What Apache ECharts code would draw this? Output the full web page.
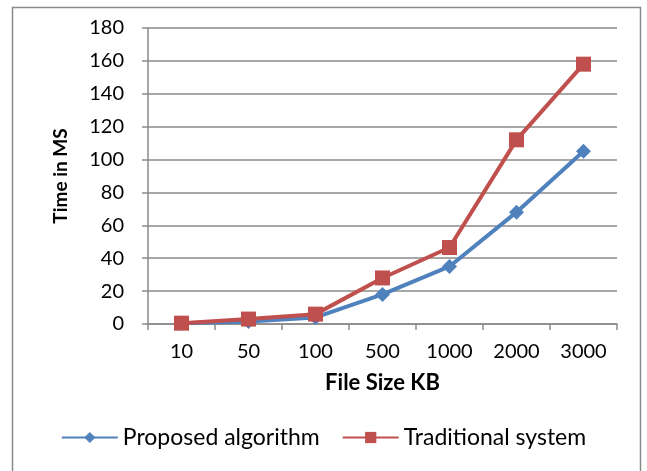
<!DOCTYPE html>
<html>
<head>
<meta charset="utf-8">
<script src="https://cdn.jsdelivr.net/npm/echarts@6/dist/echarts.min.js"></script>
<style>html,body{margin:0;padding:0;background:#fff}#c{width:647px;height:471px}</style>
</head>
<body>
<div id="c"></div>
<script>
const categories = ['10', '50', '100', '500', '1000', '2000', '3000'];
const proposed = [0.5, 1.5, 4, 18, 35, 68, 105];
const traditional = [0.5, 3, 6, 28, 46.5, 112, 158];
const yTicks = { min: 0, max: 180, interval: 20 };

const font = 'Lato';
const chart = echarts.init(document.getElementById('c'), null, { renderer: 'canvas' });
chart.setOption({
  animation: false,
  textStyle: { fontFamily: font },
  graphic: [{
    type: 'rect', shape: { x: 12.5, y: 7.5, width: 628, height: 480 },
    style: { fill: 'none', stroke: '#8a8a8a', lineWidth: 1.5 }, silent: true
  }],
  grid: { left: 148, right: 30, top: 28, bottom: 147 },
  legend: {
    bottom: 17, left: 'center', itemWidth: 56, itemHeight: 14, itemGap: 22,
    textStyle: { fontFamily: font, fontSize: 23, color: '#000' },
    data: ['Proposed algorithm', 'Traditional system']
  },
  xAxis: {
    type: 'category', data: categories, boundaryGap: true,
    name: 'File Size KB', nameLocation: 'middle', nameGap: 48,
    nameTextStyle: { fontFamily: font, fontWeight: 'bold', fontSize: 22, color: '#000' },
    axisLine: { lineStyle: { color: '#8a8a8a', width: 1.5 } },
    axisTick: { show: true, inside: false, length: 6, alignWithLabel: false, lineStyle: { color: '#8a8a8a', width: 1.5 } },
    axisLabel: { fontFamily: font, fontSize: 20, color: '#000', margin: 18 }
  },
  yAxis: {
    type: 'value', min: yTicks.min, max: yTicks.max, interval: yTicks.interval,
    name: 'Time in MS', nameLocation: 'middle', nameGap: 78, nameRotate: 90,
    nameTextStyle: { fontFamily: font, fontWeight: 'bold', fontSize: 19, color: '#000' },
    axisLine: { show: true, lineStyle: { color: '#8a8a8a', width: 1.5 } },
    axisTick: { show: true, length: 6, lineStyle: { color: '#8a8a8a', width: 1.5 } },
    axisLabel: { fontFamily: font, fontSize: 20, color: '#000', margin: 24 },
    splitLine: { show: true, lineStyle: { color: '#8a8a8a', width: 1.5 } }
  },
  series: [
    {
      name: 'Proposed algorithm', type: 'line', data: proposed,
      symbol: 'diamond', symbolSize: 15,
      lineStyle: { color: '#4F81BD', width: 4 },
      itemStyle: { color: '#4F81BD' }, z: 3
    },
    {
      name: 'Traditional system', type: 'line', data: traditional,
      symbol: 'rect', symbolSize: 15,
      lineStyle: { color: '#C0504D', width: 4 },
      itemStyle: { color: '#C0504D' }, z: 4
    }
  ]
});
</script>
</body>
</html>
